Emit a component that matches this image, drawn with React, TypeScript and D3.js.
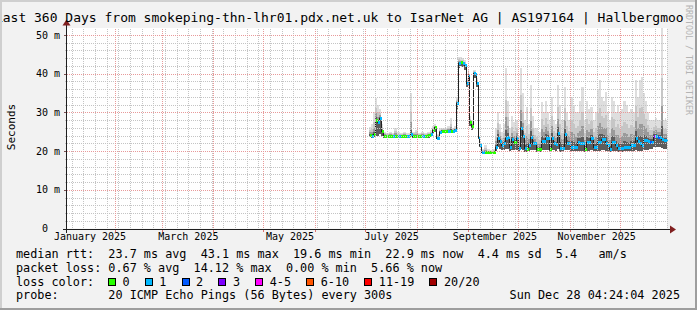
import React from "react";
import * as d3 from "d3";

// ---------------- data ----------------
// sample time, in days since 2025-01-01 00:00 UTC
const sampleDay = [
  183.4, 184.6, 185.8, 187.0, 188.2, 189.4, 190.6, 191.8, 193.6, 195.4,
  197.2, 198.4, 200.2, 202.0, 203.8, 205.6, 207.4, 208.0, 209.2, 211.0,
  212.8, 214.6, 216.4, 218.2, 220.0, 221.2, 222.4, 223.6, 224.2, 225.4,
  226.6, 228.4, 230.2, 232.0, 233.2, 234.4, 235.6, 236.8, 238.0, 239.2,
  240.4, 241.6, 242.8, 243.4, 244.6, 245.8, 247.0, 247.6, 248.8, 249.4,
  250.6, 252.4, 254.2, 256.0, 257.8, 259.0, 260.2, 261.4, 262.6, 263.8,
  265.0, 266.2, 267.4, 268.6, 269.8, 271.6, 272.8, 274.0, 275.2, 276.4,
  277.6, 278.8, 280.0, 281.2, 282.4, 283.6, 284.8, 286.6, 287.8, 289.0,
  290.2, 291.4, 292.6, 293.8, 295.0, 296.2, 297.4, 298.6, 300.4, 301.6,
  302.8, 304.0, 305.8, 307.0, 308.2, 309.4, 310.6, 312.4, 313.6, 314.8,
  316.0, 317.8, 319.0, 320.2, 321.4, 322.6, 323.8, 325.0, 326.2, 327.4,
  328.6, 329.8, 331.0, 332.2, 333.4, 334.6, 335.8, 337.6, 338.8, 340.0,
  341.8, 343.0, 344.2, 345.4, 346.6, 347.8, 349.0, 350.2, 351.4, 352.6,
  353.8, 355.0, 356.2, 357.4, 358.6, 359.8, 361.0, 361.6,
];
const medianMs = [
  24.2, 24.0, 24.3, 28.0, 27.5, 28.5, 25.2, 24.0, 24.0, 24.0,
  23.9, 24.0, 23.8, 23.9, 24.0, 23.9, 24.0, 24.3, 24.0, 24.0,
  24.0, 24.0, 24.0, 24.1, 24.3, 25.5, 26.1, 23.5, 23.5, 25.0,
  25.3, 25.3, 25.3, 25.3, 25.3, 25.5, 32.5, 42.8, 43.0, 42.7,
  42.2, 37.5, 39.7, 27.6, 26.5, 40.1, 40.0, 37.6, 23.7, 21.6,
  19.8, 19.8, 19.7, 19.7, 19.8, 21.0, 23.5, 22.5, 21.6, 22.0,
  23.4, 23.6, 21.1, 23.0, 22.4, 23.3, 20.7, 25.9, 24.0, 20.7,
  20.6, 21.5, 23.7, 22.0, 22.0, 20.5, 20.5, 22.6, 22.6, 23.3,
  23.3, 20.5, 23.3, 22.0, 21.8, 24.6, 20.9, 20.9, 24.3, 22.0,
  22.0, 21.0, 21.0, 21.0, 22.4, 22.0, 22.0, 20.5, 22.4, 22.4,
  23.3, 21.1, 21.1, 22.4, 22.4, 23.0, 23.0, 22.0, 21.5, 20.5,
  22.4, 22.4, 21.5, 20.7, 20.7, 20.7, 21.1, 21.1, 21.1, 21.6,
  21.6, 23.3, 22.5, 22.0, 21.6, 22.8, 22.8, 22.6, 22.4, 22.4,
  24.0, 24.0, 23.7, 23.7, 23.0, 22.8, 22.8, 22.8,
];
const smokeHighMs = [
  26.3, 27.0, 30.0, 33.8, 32.0, 31.0, 27.0, 25.0, 24.8, 25.0,
  24.8, 26.0, 25.0, 24.8, 25.0, 24.6, 24.8, 34.9, 25.0, 25.5,
  24.8, 25.0, 24.8, 25.0, 25.5, 26.5, 27.0, 25.0, 24.5, 26.0,
  26.0, 26.0, 26.5, 28.5, 26.0, 26.5, 34.0, 44.4, 44.2, 44.0,
  43.5, 39.0, 41.0, 29.0, 28.0, 41.0, 41.0, 39.0, 25.0, 22.5,
  20.5, 21.5, 20.5, 20.3, 20.5, 26.0, 30.2, 27.0, 25.0, 27.0,
  41.4, 33.0, 26.0, 29.0, 27.6, 28.0, 24.0, 41.4, 35.0, 28.0,
  31.5, 27.0, 37.1, 29.0, 26.0, 26.0, 25.0, 32.8, 30.0, 33.0,
  30.0, 28.0, 34.0, 28.0, 27.0, 37.1, 32.0, 28.0, 36.6, 30.0,
  28.0, 34.0, 32.0, 30.0, 30.0, 33.0, 36.6, 28.0, 33.0, 31.0,
  31.5, 28.0, 30.0, 36.0, 38.4, 34.0, 33.0, 35.4, 30.0, 28.0,
  34.0, 33.0, 30.0, 32.0, 30.0, 31.0, 33.0, 32.0, 30.0, 31.0,
  30.0, 38.4, 34.0, 38.4, 39.2, 35.0, 33.0, 30.0, 28.0, 28.0,
  28.0, 28.5, 28.0, 28.0, 52.0, 28.0, 28.5, 28.0,
];
const smokeLowMs = [
  23.6, 23.5, 23.6, 24.0, 24.0, 24.5, 23.8, 23.5, 23.5, 23.5,
  23.4, 23.5, 23.3, 23.4, 23.5, 23.4, 23.5, 23.6, 23.5, 23.5,
  23.5, 23.5, 23.5, 23.5, 23.6, 24.5, 25.0, 23.0, 23.0, 24.5,
  24.8, 24.8, 24.8, 24.8, 24.8, 25.0, 31.0, 41.5, 42.0, 41.8,
  41.0, 36.5, 38.5, 26.5, 25.5, 39.0, 39.0, 36.5, 23.0, 21.0,
  19.4, 19.4, 19.3, 19.3, 19.4, 20.0, 21.0, 20.5, 20.2, 20.3,
  20.5, 20.5, 20.0, 20.3, 20.3, 20.3, 19.8, 20.5, 20.3, 19.8,
  19.8, 20.0, 20.3, 20.2, 20.2, 19.8, 19.8, 20.2, 20.2, 20.3,
  20.3, 19.8, 20.3, 20.2, 20.0, 20.5, 19.8, 19.8, 20.4, 20.2,
  20.2, 19.9, 19.9, 19.9, 20.1, 20.1, 20.1, 19.8, 20.1, 20.1,
  20.3, 19.9, 19.9, 20.1, 20.1, 20.2, 20.2, 20.1, 20.0, 19.8,
  20.1, 20.1, 20.0, 19.8, 19.8, 19.8, 19.9, 19.9, 19.9, 20.0,
  20.0, 20.3, 20.1, 20.1, 20.0, 20.2, 20.2, 20.2, 20.5, 20.5,
  21.0, 21.0, 21.0, 21.0, 20.8, 20.5, 20.5, 20.5,
];
// lost pings out of 20
const lossPings = [
  0, 1, 0, 0, 1, 1, 0, 0, 0, 0,
  1, 0, 1, 0, 0, 1, 0, 1, 0, 0,
  0, 1, 0, 0, 1, 0, 0, 1, 1, 1,
  0, 0, 1, 0, 1, 1, 1, 1, 0, 1,
  1, 1, 1, 0, 0, 1, 1, 1, 1, 1,
  1, 0, 0, 0, 0, 1, 1, 1, 1, 1,
  1, 1, 1, 1, 0, 1, 1, 1, 1, 1,
  0, 1, 1, 1, 1, 0, 0, 1, 1, 1,
  1, 0, 1, 1, 1, 1, 1, 1, 1, 1,
  1, 1, 1, 1, 1, 1, 1, 0, 1, 1,
  1, 1, 1, 1, 1, 1, 1, 1, 1, 1,
  1, 1, 1, 1, 1, 1, 1, 1, 1, 1,
  1, 1, 1, 1, 1, 1, 1, 1, 2, 1,
  3, 1, 2, 1, 1, 1, 1, 1,
];

const yTickValues = [0, 10, 20, 30, 40, 50];
const yTickLabels = ["0", "10 m", "20 m", "30 m", "40 m", "50 m"];
const xTickLabels = ["January 2025", "March 2025", "May 2025", "July 2025", "September 2025", "November 2025"];
const lossLegendLabels = ["0", "1", "2", "3", "4-5", "6-10", "11-19", "20/20"];
const lossLegendColors = ["#26ff00", "#00b8ff", "#0059ff", "#7e00ff", "#ff00ff", "#ff5500", "#ff0000", "#a10000"];
const lossLegendMax = [0, 1, 2, 3, 5, 10, 19, 20];

const titleText = "Last 360 Days from smokeping-thn-lhr01.pdx.net.uk to IsarNet AG | AS197164 | Hallbergmoos";
const statsMedian = "median rtt:  23.7 ms avg  43.1 ms max  19.6 ms min  22.9 ms now  4.4 ms sd  5.4   am/s";
const statsLoss = "packet loss: 0.67 % avg  14.12 % max  0.00 % min  5.66 % now";
const lossLabel = "loss color:";
const probeText = "probe:       20 ICMP Echo Pings (56 Bytes) every 300s";
const dateText = "Sun Dec 28 04:24:04 2025";
const watermark = "RRDTOOL / TOBI OETIKER";

// ---------------- layout ----------------
const W = 697;
const H = 310;
const PL = 67;
const PR = 667;
const PT = 28.5;
const PB = 228.5;
const DAY = 86400000;
const T0 = Date.UTC(2025, 0, 1);
const startDay = 2.2;
const endDay = 362.2;
const FONT = "DejaVu Sans Mono";
const PRE: React.CSSProperties = { whiteSpace: "pre" };

const dayDate = (d: number) => new Date(T0 + d * DAY);
const x = d3.scaleUtc().domain([dayDate(startDay), dayDate(endDay)]).range([PL, PR]);
const y = d3.scaleLinear().domain([0, 51.68]).range([PB, PT]);

function lossColor(n: number) {
  for (let i = 0; i < lossLegendMax.length; i++) if (n <= lossLegendMax[i]) return lossLegendColors[i];
  return lossLegendColors[lossLegendColors.length - 1];
}

export default function App() {
  const start = dayDate(startDay);
  const end = dayDate(endDay);
  const weeks = d3.utcMonday.range(start, end);
  const months = d3.utcMonth.range(start, end);
  const minorY = d3.range(0, 51.68, 2).filter((v) => v % 10 !== 0);
  const labelMonths = d3.utcMonth.every(2)!.range(new Date(T0), end).slice(0, xTickLabels.length);

  const n = sampleDay.length;
  const cols = sampleDay.map((d, i) => {
    const x0 = Math.round(x(dayDate(d)));
    const x1 = Math.round(x(dayDate(i + 1 < n ? sampleDay[i + 1] : endDay)));
    return { x0, x1, i };
  });

  const linePts: [number, number][] = sampleDay.map((d, i) => [Math.round(x(dayDate(d))) + 0.5, Math.round(y(medianMs[i])) + 0.5]);
  linePts.push([Math.round(x(end)) + 0.5, Math.round(y(medianMs[n - 1])) + 0.5]);
  const medLine = d3.line().curve(d3.curveStepAfter)(linePts) || "";

  const crisp = (v: number) => Math.round(v) + 0.5;

  const legendItems: { bx: number; tx: number; label: string; color: string }[] = [];
  let cx = 108;
  const cw = 7.1;
  lossLegendLabels.forEach((lab, i) => {
    legendItems.push({ bx: cx, tx: cx + 14.5, label: lab, color: lossLegendColors[i] });
    cx = cx + 14.5 + lab.length * cw + 15.2;
  });

  return (
    <svg width={W} height={H} style={{ position: "fixed", left: 0, top: 0, display: "block" }}>
      <defs>
        <clipPath id="titleclip">
          <rect x={0} y={0} width={684} height={30} />
        </clipPath>
        <clipPath id="plotclip">
          <rect x={PL} y={PT - 0.5} width={PR - PL} height={PB - PT + 0.5} />
        </clipPath>
      </defs>
      <rect x={0} y={0} width={W} height={H} fill="#f2f2f2" />
      <rect x={PL} y={PT - 0.5} width={PR - PL} height={PB - PT + 0.5} fill="#ffffff" />

      {/* smoke */}
      <g clipPath="url(#plotclip)" shapeRendering="crispEdges">
        {cols.map(({ x0, x1, i }) => {
          const m = medianMs[i];
          const hi = smokeHighMs[i];
          const lo = smokeLowMs[i];
          const span = hi - m;
          const w = Math.max(1, x1 - x0);
          const bands = [
            { top: hi, c: "#dedede" },
            { top: m + span * 0.55, c: "#c6c6c6" },
            { top: m + span * 0.3, c: "#9a9a9a" },
            { top: m + span * 0.12, c: "#5c5c5c" },
          ];
          return (
            <g key={"s" + i}>
              {bands.map((b, k) => (
                <rect key={k} x={x0} width={w} y={y(b.top)} height={Math.max(0, y(lo) - y(b.top))} fill={b.c} />
              ))}
            </g>
          );
        })}
      </g>

      {/* median line (black) with loss-coloured marks */}
      <path d={medLine} fill="none" stroke="#202020" strokeWidth={1} shapeRendering="crispEdges" />
      <g shapeRendering="crispEdges">
        {cols.map(({ x0, x1, i }) => (
          <rect
            key={"m" + i}
            x={x0 + 1}
            width={Math.max(1, Math.min(3, x1 - x0))}
            y={Math.round(y(medianMs[i])) - 1}
            height={3}
            fill={lossColor(lossPings[i])}
          />
        ))}
      </g>

      {/* grid */}
      <g shapeRendering="crispEdges" fill="none">
        {weeks.map((d, i) => (
          <line key={"w" + i} x1={crisp(x(d))} x2={crisp(x(d))} y1={PT} y2={PB + 2} stroke="#c4c4c4" strokeDasharray="1 1" />
        ))}
        {minorY.map((v, i) => (
          <line key={"h" + i} x1={PL - 2} x2={PR} y1={crisp(y(v))} y2={crisp(y(v))} stroke="#c4c4c4" strokeDasharray="1 1" />
        ))}
        {months.map((d, i) => (
          <line key={"mo" + i} x1={crisp(x(d))} x2={crisp(x(d))} y1={PT} y2={PB + 3} stroke="#e89a9a" strokeDasharray="1 1" />
        ))}
        {months.map((d, i) => (
          <line key={"mt" + i} x1={crisp(x(d))} x2={crisp(x(d))} y1={PB} y2={PB + 3} stroke="#e07070" />
        ))}
        {yTickValues.filter((v) => v > 0).map((v, i) => (
          <line key={"H" + i} x1={PL} x2={PR} y1={crisp(y(v))} y2={crisp(y(v))} stroke="#e89a9a" strokeDasharray="1 1" />
        ))}
        {yTickValues.map((v, i) => (
          <line key={"Ht" + i} x1={PL - 3} x2={PL} y1={crisp(y(v))} y2={crisp(y(v))} stroke="#7a5050" />
        ))}
      </g>

      {/* axes */}
      <g shapeRendering="crispEdges">
        <line x1={PL - 4} x2={PR + 5} y1={crisp(PB)} y2={crisp(PB)} stroke="#1f1f1f" />
        <line x1={crisp(PL - 1)} x2={crisp(PL - 1)} y1={PB + 4} y2={PT - 4} stroke="#1f1f1f" />
      </g>
      <path d={`M${PR + 3},${Math.round(PB) - 3.5} L${PR + 9},${Math.round(PB) + 0.5} L${PR + 3},${Math.round(PB) + 4.5} Z`} fill="#801f1f" />
      <path d={`M${PL - 4.5},${PT - 3} L${PL - 0.5},${PT - 9} L${PL + 3.5},${PT - 3} Z`} fill="#801f1f" />

      {/* axis labels */}
      <g fontFamily={FONT} fontSize={10} fill="#000">
        {yTickValues.map((v, i) => (
          <text key={"yl" + i} x={v === 0 ? 48 : 60} y={y(v) + 3.6} textAnchor="end">
            {yTickLabels[i]}
          </text>
        ))}
        {labelMonths.map((d, i) => (
          <text key={"xl" + i} x={x(new Date(+d + 16 * DAY))} y={239.5} textAnchor="middle">
            {xTickLabels[i]}
          </text>
        ))}
      </g>
      <text fontFamily={FONT} fontSize={11} transform={`translate(15,127) rotate(-90)`} textAnchor="middle">
        Seconds
      </text>

      {/* title */}
      <g clipPath="url(#titleclip)">
        <text x={-5.1} y={22} fontFamily={FONT} fontSize={13} xmlSpace="preserve" style={PRE}>
          {titleText}
        </text>
      </g>

      {/* watermark */}
      <text transform={`translate(686,5) rotate(90)`} fontFamily={FONT} fontSize={8.3} fill="#b4b4b4" xmlSpace="preserve" style={PRE}>
        {watermark}
      </text>

      {/* legend */}
      <g fontFamily={FONT} fontSize={11.8} fill="#000">
        <text x={16} y={258.3} xmlSpace="preserve" style={PRE}>{statsMedian}</text>
        <text x={16} y={272} xmlSpace="preserve" style={PRE}>{statsLoss}</text>
        <text x={16} y={285.7} xmlSpace="preserve" style={PRE}>{lossLabel}</text>
        {legendItems.map((it, i) => (
          <g key={"lg" + i}>
            <rect x={Math.round(it.bx) + 0.5} y={278.5} width={7} height={7} fill={it.color} stroke="#000" shapeRendering="crispEdges" />
            <text x={it.tx} y={285.7}>{it.label}</text>
          </g>
        ))}
        <text x={16} y={299.4} xmlSpace="preserve" style={PRE}>{probeText}</text>
        <text x={680} y={299.4} textAnchor="end">{dateText}</text>
      </g>

      {/* frame */}
      <g shapeRendering="crispEdges">
        <rect x={0} y={0} width={W} height={2} fill="#cfcfcf" />
        <rect x={0} y={0} width={2} height={H} fill="#cfcfcf" />
        <rect x={0} y={H - 2} width={W} height={2} fill="#9e9e9e" />
        <rect x={W - 2} y={0} width={2} height={H} fill="#9e9e9e" />
      </g>
    </svg>
  );
}
